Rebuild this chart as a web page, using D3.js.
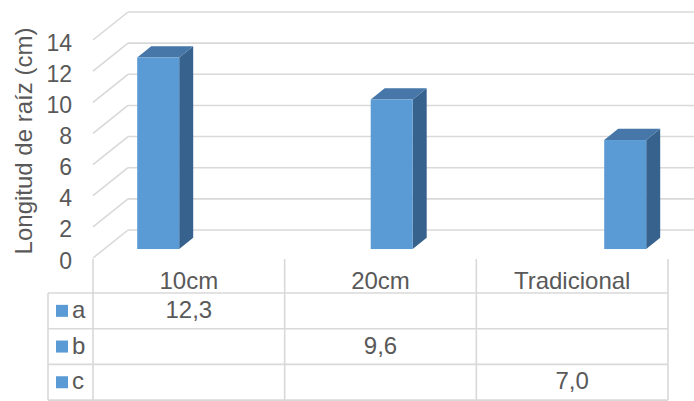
<!DOCTYPE html>
<html>
<head>
<meta charset="utf-8">
<script src="https://cdn.jsdelivr.net/npm/d3@7"></script>
<style>
  body { margin: 0; background: #fff; }
  text { font-family: "Liberation Sans", Arial, sans-serif; fill: #595959; }
</style>
</head>
<body>
<div id="chart-area"></div>
<script>
const chartWidth = 694
const chartHeight = 401

// data
const categories = ["10cm", "20cm", "Tradicional"]
const seriesNames = ["a", "b", "c"]
const seriesValues = [
    [12.3, null, null],
    [null, 9.6, null],
    [null, null, 7.0]
]
const yTicks = [0, 2, 4, 6, 8, 10, 12, 14]

const front = "#5b9bd5", topColor = "#4677a8", sideColor = "#37628d"
const gridColor = "#d9d9d9"
const fontSize = "24px"

// oblique depth of the 3D box (floor front edge -> back wall)
const depth = {dx: 35, dy: -28}
const barFront = 0.32, barBack = 0.72
const barWidth = 42

const svg = d3.select("#chart-area").append("svg")
    .attr("width", chartWidth)
    .attr("height", chartHeight)

const y = d3.scaleLinear().domain([0, 14]).range([258, 40])

// table columns (also the front edge of the floor)
const xTable = d3.scaleBand().domain(categories).range([93, 668])
// bars sit further apart because of the perspective
const xBar = d3.scalePoint().domain(categories).range([147, 614])

const comma = d3.formatLocale({decimal: ",", thousands: ".", grouping: [3], currency: ["", ""]}).format(".1f")

// back wall + side wall gridlines
const grid = svg.append("g")
yTicks.forEach(t => {
    grid.append("line")
        .attr("x1", xTable.range()[0] + depth.dx).attr("x2", xTable.range()[1] + depth.dx)
        .attr("y1", y(t) + depth.dy).attr("y2", y(t) + depth.dy)
        .attr("stroke", gridColor).attr("stroke-width", 1.6)
    grid.append("line")
        .attr("x1", xTable.range()[0]).attr("x2", xTable.range()[0] + depth.dx)
        .attr("y1", y(t)).attr("y2", y(t) + depth.dy)
        .attr("stroke", gridColor).attr("stroke-width", 1.6)
})

// y axis labels
svg.append("g").selectAll("text")
    .data(yTicks).enter()
    .append("text")
    .attr("x", 72)
    .attr("y", d => y(d))
    .attr("dy", "0.46em")
    .attr("text-anchor", "end")
    .attr("font-size", "23px")
    .text(d => d)

svg.append("text")
    .attr("transform", `translate(32, ${141}) rotate(-90)`)
    .attr("text-anchor", "middle")
    .attr("font-size", fontSize)
    .text("Longitud de raíz (cm)")

// bars
const bars = []
seriesValues.forEach((vals, si) => {
    vals.forEach((v, ci) => {
        if (v != null) bars.push({series: seriesNames[si], cat: categories[ci], value: v})
    })
})

const bg = svg.append("g")
bars.forEach(d => {
    const x0 = xBar(d.cat) - barWidth / 2 + depth.dx * barFront
    const x1 = x0 + barWidth
    const yTop = y(d.value) + depth.dy * barFront
    const yBot = y(0) + depth.dy * barFront
    const ddx = depth.dx * (barBack - barFront), ddy = depth.dy * (barBack - barFront)
    // side
    bg.append("path")
        .attr("d", `M${x1},${yTop}L${x1 + ddx},${yTop + ddy}L${x1 + ddx},${yBot + ddy}L${x1},${yBot}Z`)
        .attr("fill", sideColor)
    // top
    bg.append("path")
        .attr("d", `M${x0},${yTop}L${x0 + ddx},${yTop + ddy}L${x1 + ddx},${yTop + ddy}L${x1},${yTop}Z`)
        .attr("fill", topColor)
    // front
    bg.append("rect")
        .attr("x", x0).attr("y", yTop)
        .attr("width", barWidth).attr("height", yBot - yTop)
        .attr("fill", front)
})

// data table
const rowTop = 293, rowH = 35.7
const tableLeft = 48
const tg = svg.append("g")
const tLine = (x1, y1, x2, y2) => tg.append("line")
    .attr("x1", x1).attr("y1", y1).attr("x2", x2).attr("y2", y2)
    .attr("stroke", gridColor).attr("stroke-width", 1.6)

const tableRight = xTable.range()[1]
const tableBottom = rowTop + rowH * seriesNames.length
categories.forEach(c => tLine(xTable(c), 259, xTable(c), tableBottom))
tLine(tableRight, 259, tableRight, tableBottom)
tLine(tableLeft, rowTop, tableLeft, tableBottom)
for (let i = 0; i <= seriesNames.length; i++) {
    tLine(tableLeft, rowTop + i * rowH, tableRight, rowTop + i * rowH)
}

tg.selectAll(".cat")
    .data(categories).enter()
    .append("text")
    .attr("x", d => xTable(d) + xTable.bandwidth() / 2)
    .attr("y", 289)
    .attr("text-anchor", "middle")
    .attr("font-size", fontSize)
    .text(d => d)

seriesNames.forEach((s, si) => {
    const cy = rowTop + rowH * si + rowH / 2
    tg.append("rect")
        .attr("x", 56).attr("y", cy - 6)
        .attr("width", 12).attr("height", 12)
        .attr("fill", front)
    tg.append("text")
        .attr("x", 72).attr("y", cy)
        .attr("dy", "0.3em")
        .attr("font-size", fontSize)
        .text(s)
    seriesValues[si].forEach((v, ci) => {
        if (v == null) return
        tg.append("text")
            .attr("x", xTable(categories[ci]) + xTable.bandwidth() / 2)
            .attr("y", cy)
            .attr("dy", "0.3em")
            .attr("text-anchor", "middle")
            .attr("font-size", fontSize)
            .text(comma(v))
    })
})
</script>
</body>
</html>
